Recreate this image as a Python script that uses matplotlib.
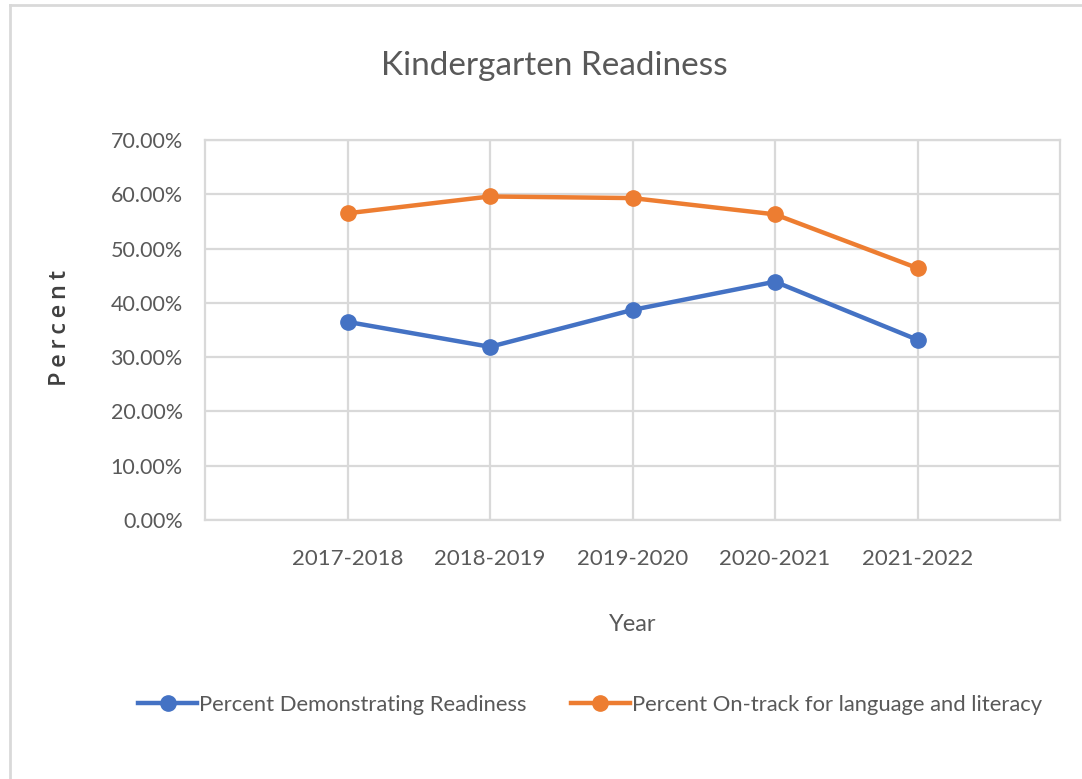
import matplotlib
matplotlib.use("Agg")
import matplotlib.pyplot as plt
from matplotlib.lines import Line2D

years = ["2017-2018", "2018-2019", "2019-2020", "2020-2021", "2021-2022"]
readiness = [36.5, 31.9, 38.7, 43.9, 33.2]
on_track = [56.5, 59.6, 59.3, 56.3, 46.4]
series_names = ["Percent Demonstrating Readiness", "Percent On-track for language and literacy"]
yticks = [0, 10, 20, 30, 40, 50, 60, 70]

fam = "Lato"
txt = "#595959"
grid = "#d9d9d9"
blue = "#4472C4"
orange = "#ED7D31"

fig = plt.figure(figsize=(10.82, 7.79), dpi=100)
ax = fig.add_axes([205/1082, 1-520/779, (1060-205)/1082, (520-140)/779])

x = list(range(1, len(years)+1))
ax.plot(x, readiness, color=blue, lw=3.2, marker="o", ms=11, label=series_names[0], solid_capstyle="round")
ax.plot(x, on_track, color=orange, lw=3.2, marker="o", ms=11, label=series_names[1], solid_capstyle="round")

ax.set_xlim(0, len(years)+1)
ax.set_ylim(0, 70)
ax.set_xticks(x)
ax.set_xticklabels(years, fontsize=16, color=txt, family=fam)
ax.set_yticks(yticks)
ax.set_yticklabels([f"{v:.2f}%" for v in yticks], fontsize=15.5, color=txt, family=fam)
ax.tick_params(length=0)
ax.tick_params(axis="y", pad=16)
ax.tick_params(axis="x", pad=21)
ax.grid(True, color=grid, lw=1.6)
ax.set_axisbelow(True)
for s in ax.spines.values():
    s.set_color(grid)
    s.set_linewidth(1.6)

ax.set_xlabel("Year", fontsize=17, color=txt, family=fam, labelpad=32)
fig.text(60/1082, 1-328/779, "\u2009".join("Percent"), rotation=90, fontsize=17, color="#404040",
         fontweight="semibold", ha="center", va="center", family=["Open Sans", "DejaVu Sans"])

fig.text(554/1082, 1-66/779, "Kindergarten Readiness", fontsize=24, color=txt, family=fam,
         ha="center", va="center")

handles = [Line2D([0], [0], color=blue, lw=3.2, marker="o", ms=11),
           Line2D([0], [0], color=orange, lw=3.2, marker="o", ms=11)]
fig.legend(handles, series_names, loc="center", bbox_to_anchor=(590/1082, 1-705/779), ncol=2,
           frameon=False, prop={"family": fam, "size": 15.8}, labelcolor=txt,
           handlelength=2.7, columnspacing=2.0, handletextpad=0.08)

fig.add_artist(Line2D([10/1082, 1], [1-5/779, 1-5/779], color=grid, lw=2, transform=fig.transFigure))
fig.add_artist(Line2D([10/1082, 10/1082], [0, 1-5/779], color=grid, lw=2, transform=fig.transFigure))

fig.savefig("out.png", dpi=100)
